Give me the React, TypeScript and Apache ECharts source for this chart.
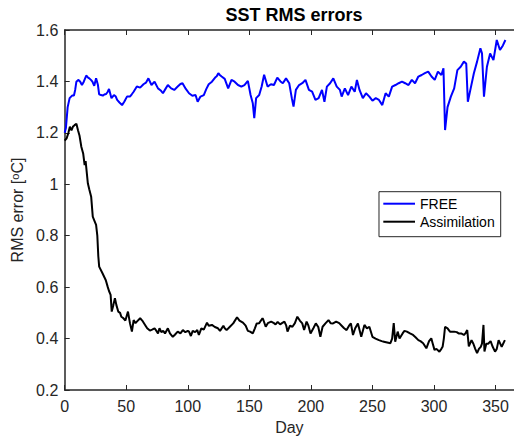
import React, { useEffect, useRef } from "react";
import * as echarts from "echarts";

const titleText = "SST RMS errors";
const xName = "Day";
const yName = "RMS error [{sup|o}C]";
const seriesNames = ["FREE", "Assimilation"];

const freeDays = [0, 1, 2.4, 4, 6, 7.5, 8.5, 9.5, 11, 12.5, 14, 15.5, 17.5, 19, 20, 21.5, 22.5, 24, 25.5, 27, 28, 29.5, 31, 32.5, 33.5, 35, 36, 38, 40, 41.5, 42.6, 44.5, 46.6, 48.5, 50.6, 53, 54.5, 56, 58.6, 61.3, 64, 66, 68, 70.5, 73, 75.8, 78, 79.8, 82, 83.8, 86.5, 89, 91.8, 94, 95.7, 98.4, 101, 103.7, 106.3, 108, 110.3, 113, 115, 117, 119.6, 122.2, 123.5, 124.8, 126, 127.5, 130, 132.8, 135.5, 138, 140.8, 143.5, 146, 148.8, 151, 152.8, 154, 155.5, 158, 160, 162, 164.8, 167.5, 170, 172.7, 175.3, 177.2, 179.8, 182.4, 184.5, 185.9, 187.8, 190.4, 193, 195.6, 198.4, 201, 203.7, 206.3, 209, 211, 213, 215.6, 218.2, 221, 223.6, 225, 227.6, 230.2, 232.9, 235.6, 237.4, 239.5, 242.2, 244.8, 247.5, 250, 252.7, 255.3, 258, 260.7, 263.3, 266, 268.7, 271.3, 274, 276.6, 279.3, 282, 284.6, 287.3, 290, 292.6, 295.3, 298, 300.6, 303.2, 306, 307.7, 309, 311, 313.7, 316.4, 319, 321.7, 324.3, 326.2, 327.5, 329.8, 332.4, 335, 337.7, 339, 340.6, 343, 345.6, 348.3, 351, 353.6, 356, 358];
const freeRms = [1.2, 1.22, 1.3, 1.335, 1.345, 1.345, 1.367, 1.399, 1.406, 1.4, 1.386, 1.399, 1.423, 1.415, 1.412, 1.405, 1.399, 1.383, 1.412, 1.386, 1.35, 1.347, 1.345, 1.35, 1.35, 1.36, 1.371, 1.335, 1.347, 1.341, 1.328, 1.318, 1.308, 1.322, 1.341, 1.341, 1.35, 1.36, 1.38, 1.376, 1.389, 1.395, 1.412, 1.386, 1.399, 1.373, 1.365, 1.354, 1.372, 1.386, 1.373, 1.367, 1.38, 1.39, 1.393, 1.371, 1.354, 1.344, 1.347, 1.321, 1.341, 1.347, 1.37, 1.389, 1.399, 1.415, 1.42, 1.432, 1.425, 1.419, 1.41, 1.373, 1.406, 1.399, 1.386, 1.38, 1.386, 1.402, 1.347, 1.315, 1.257, 1.335, 1.347, 1.38, 1.426, 1.38, 1.389, 1.386, 1.415, 1.4, 1.393, 1.412, 1.393, 1.335, 1.302, 1.367, 1.386, 1.393, 1.406, 1.367, 1.36, 1.328, 1.335, 1.367, 1.321, 1.38, 1.393, 1.412, 1.38, 1.367, 1.341, 1.373, 1.347, 1.38, 1.36, 1.406, 1.367, 1.335, 1.354, 1.341, 1.325, 1.335, 1.328, 1.308, 1.354, 1.341, 1.38, 1.386, 1.393, 1.399, 1.393, 1.386, 1.406, 1.393, 1.419, 1.425, 1.432, 1.438, 1.419, 1.406, 1.438, 1.425, 1.451, 1.211, 1.3, 1.341, 1.373, 1.444, 1.457, 1.477, 1.47, 1.321, 1.373, 1.432, 1.477, 1.529, 1.509, 1.341, 1.457, 1.509, 1.483, 1.561, 1.522, 1.54, 1.561];

const assimDays = [0, 1.6, 3, 4.2, 5.5, 6.8, 8, 9.5, 10.8, 12, 13.5, 15, 16.2, 17, 18.8, 20, 21.5, 22.8, 24, 25.5, 26.5, 27.3, 28, 30.7, 33.4, 35, 36, 37.3, 38.2, 39.5, 40.8, 42, 43.5, 45, 46, 47.5, 49.3, 51.4, 53, 54.6, 56, 57.5, 58.6, 61.3, 63, 65.3, 67, 69.2, 71, 73, 74.5, 75.8, 77, 78.5, 80, 81.5, 83.8, 85.5, 87.8, 89.5, 91.8, 94, 96, 98, 100, 101, 102.5, 104, 106, 107.7, 109, 111, 113, 115.6, 117, 119.6, 122, 124.5, 126.2, 128.9, 130, 131.5, 134, 136.9, 140, 142, 144.8, 147, 148.8, 150.6, 152.8, 154.5, 156, 158, 160.7, 161.2, 163.3, 165, 167.7, 170, 171.3, 173, 175, 176.5, 178.5, 180, 181, 183, 185, 187, 189, 191, 193, 194.5, 196.5, 198, 199.7, 202, 204, 206, 207.7, 209.5, 212, 214.3, 216, 218, 220.5, 223, 225, 227, 229, 231, 232.5, 234.2, 236, 238.2, 240.9, 243.5, 245.5, 247.5, 250, 252.5, 255.3, 257.5, 259.3, 262, 264.6, 266, 267.3, 268.5, 270.5, 272, 274.5, 276, 278, 280.5, 283, 285, 287.3, 289, 291.2, 293.8, 296, 297.8, 299, 300.4, 302, 304.4, 306, 307, 308, 309, 311, 313, 316.4, 318.5, 320, 322, 324.3, 325.5, 327, 328.3, 330.5, 332, 333.5, 335, 336.5, 338, 339, 340.2, 341, 342.5, 344, 346, 347.5, 349.6, 351, 352.5, 355, 357.6];
const assimRms = [1.17, 1.179, 1.2, 1.224, 1.21, 1.225, 1.23, 1.235, 1.21, 1.19, 1.146, 1.12, 1.075, 1.09, 1.004, 0.98, 0.952, 0.874, 0.86, 0.842, 0.8, 0.72, 0.68, 0.654, 0.627, 0.6, 0.585, 0.57, 0.505, 0.53, 0.557, 0.53, 0.505, 0.5, 0.485, 0.48, 0.47, 0.505, 0.46, 0.427, 0.472, 0.46, 0.466, 0.479, 0.47, 0.453, 0.44, 0.431, 0.435, 0.44, 0.43, 0.42, 0.44, 0.425, 0.43, 0.42, 0.44, 0.42, 0.407, 0.415, 0.427, 0.42, 0.433, 0.425, 0.43, 0.427, 0.41, 0.43, 0.425, 0.433, 0.414, 0.44, 0.435, 0.462, 0.45, 0.453, 0.445, 0.44, 0.43, 0.45, 0.44, 0.433, 0.445, 0.459, 0.483, 0.47, 0.462, 0.45, 0.43, 0.427, 0.42, 0.44, 0.459, 0.46, 0.479, 0.475, 0.446, 0.46, 0.466, 0.46, 0.455, 0.465, 0.455, 0.46, 0.466, 0.45, 0.427, 0.45, 0.446, 0.46, 0.485, 0.47, 0.459, 0.433, 0.466, 0.45, 0.42, 0.44, 0.459, 0.445, 0.407, 0.446, 0.46, 0.472, 0.46, 0.459, 0.466, 0.46, 0.45, 0.44, 0.433, 0.45, 0.459, 0.414, 0.44, 0.459, 0.407, 0.453, 0.44, 0.446, 0.407, 0.4, 0.394, 0.39, 0.388, 0.385, 0.382, 0.4, 0.46, 0.388, 0.427, 0.4, 0.42, 0.43, 0.427, 0.42, 0.414, 0.405, 0.394, 0.39, 0.382, 0.362, 0.39, 0.401, 0.38, 0.356, 0.36, 0.349, 0.36, 0.368, 0.4, 0.446, 0.44, 0.427, 0.427, 0.425, 0.42, 0.42, 0.414, 0.42, 0.433, 0.37, 0.394, 0.38, 0.36, 0.343, 0.36, 0.368, 0.38, 0.453, 0.35, 0.38, 0.38, 0.39, 0.37, 0.349, 0.36, 0.394, 0.368, 0.394];

const xMin = 0;
const xMax = 365;
const xStep = 50;
const yMin = 0.2;
const yMax = 1.6;
const yStep = 0.2;

const FONT = '"Liberation Sans", Arial, Helvetica, sans-serif';
const INK = "#262626";

export default function App() {
  const ref = useRef<HTMLDivElement>(null);
  useEffect(() => {
    if (!ref.current) return;
    const chart = echarts.init(ref.current, null, { renderer: "svg" });
    const pairs = (d: number[], v: number[]) => d.map((x, i) => [x, v[i]]);
    const axisLine = { show: true, onZero: false, lineStyle: { color: INK, width: 1.5 } };
    chart.setOption({
      animation: false,
      backgroundColor: "#ffffff",
      textStyle: { fontFamily: FONT },
      graphic: [
        {
          type: "text",
          x: 294,
          y: 15,
          style: {
            text: titleText,
            font: `bold 18px ${FONT}`,
            fill: "#000",
            textAlign: "center",
            textVerticalAlign: "middle",
          },
        },
      ],
      grid: { left: 64.7, top: 30, width: 458.7, height: 360, containLabel: false },
      legend: {
        data: seriesNames,
        orient: "vertical",
        left: 379,
        top: 191.7,
        padding: [4, 6, 7, 4.3],
        itemGap: 2,
        itemWidth: 31.7,
        itemHeight: 2,
        icon: "rect",
        backgroundColor: "#fff",
        borderColor: INK,
        borderWidth: 1,
        textStyle: { fontSize: 14, color: "#000", fontFamily: FONT, lineHeight: 16 },
      },
      xAxis: [
        {
          type: "value",
          min: xMin,
          max: xMax,
          interval: xStep,
          name: xName,
          nameLocation: "middle",
          nameGap: 29,
          nameTextStyle: { fontSize: 16, color: INK },
          axisLine,
          axisTick: { show: true, inside: true, length: 5, lineStyle: { color: INK, width: 1 } },
          axisLabel: { fontSize: 16, color: INK, margin: 8, showMaxLabel: false },
          splitLine: { show: false },
        },
        {
          type: "value",
          position: "top",
          min: xMin,
          max: xMax,
          interval: xStep,
          axisLine,
          axisTick: { show: true, inside: true, length: 5, lineStyle: { color: INK, width: 1 } },
          axisLabel: { show: false },
          splitLine: { show: false },
        },
      ],
      yAxis: {
        type: "value",
        min: yMin,
        max: yMax,
        interval: yStep,
        name: yName,
        nameLocation: "middle",
        nameGap: 30,
        nameTextStyle: {
          fontSize: 16,
          color: INK,
          rich: { sup: { fontSize: 11, color: INK, verticalAlign: "top", fontFamily: FONT } },
        },
        axisLine,
        axisTick: { show: true, inside: true, length: 5, lineStyle: { color: INK, width: 1 } },
        axisLabel: {
          fontSize: 16,
          color: INK,
          margin: 6.4,
          formatter: (v: number) => String(Math.round(v * 10) / 10),
        },
        splitLine: { show: false },
      },
      series: [
        {
          name: seriesNames[0],
          type: "line",
          data: pairs(freeDays, freeRms),
          symbol: "none",
          lineStyle: { color: "#0000ff", width: 2 },
          itemStyle: { color: "#0000ff" },
        },
        {
          name: seriesNames[1],
          type: "line",
          data: pairs(assimDays, assimRms),
          symbol: "none",
          lineStyle: { color: "#000000", width: 2 },
          itemStyle: { color: "#000000" },
        },
      ],
    });
    return () => chart.dispose();
  }, []);
  return (
    <div
      ref={ref}
      style={{ position: "fixed", left: 0, top: 0, width: 514, height: 442 }}
    />
  );
}
